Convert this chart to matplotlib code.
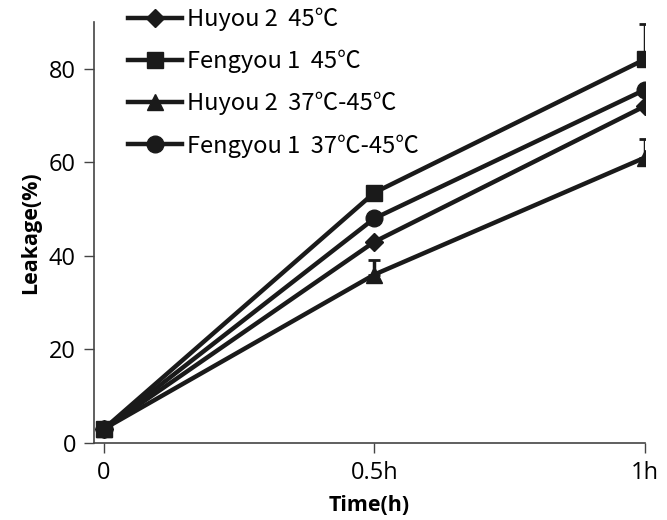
import matplotlib
matplotlib.use("Agg")
import matplotlib.pyplot as plt

plt.rcParams['font.family'] = ['Open Sans', 'Noto Sans CJK SC', 'DejaVu Sans']

# Data
times = [0, 0.5, 1.0]
time_labels = ["0", "0.5h", "1h"]
labels = ["Huyou 2  45\u2103", "Fengyou 1  45\u2103",
          "Huyou 2  37\u2103-45\u2103", "Fengyou 1  37\u2103-45\u2103"]
huyou_45 = [3, 43, 72]
fengyou_45 = [3, 53.5, 82]
huyou_37_45 = [3, 36, 61]
fengyou_37_45 = [3, 48, 75.5]
fengyou_45_err = [0, 1, 7.5]
huyou_37_45_err = [0, 3.2, 4]

series = [huyou_45, fengyou_45, huyou_37_45, fengyou_37_45]
errors = [None, fengyou_45_err, huyou_37_45_err, None]
markers = ["D", "s", "^", "o"]
sizes = [9, 11, 12, 12]

fig = plt.figure(figsize=(6.67, 5.2), dpi=100)
ax = fig.add_axes([0.141, 0.148, 0.826, 0.81])

for vals, err, m, ms, lab in zip(series, errors, markers, sizes, labels):
    ax.plot(times, vals, color="#1a1a1a", lw=3.2, marker=m, markersize=ms, label=lab)
    if err is not None:
        ax.errorbar(times, vals, yerr=[[0] * len(err), err], fmt="none",
                    ecolor="#1a1a1a", elinewidth=2.5, capsize=4, capthick=2)

ax.set_xlim(-0.018, 1.0)
ax.set_ylim(0, 90)
ax.set_xticks(times)
ax.set_xticklabels(time_labels)
ax.set_yticks([0, 20, 40, 60, 80])
ax.tick_params(labelsize=17, direction="out", length=7, width=1, color="#444444", pad=6)
for side in ["top", "right"]:
    ax.spines[side].set_visible(False)
for side in ["left", "bottom"]:
    ax.spines[side].set_color("#444444")
    ax.spines[side].set_linewidth(1.2)
ax.set_xlabel("Time(h)", fontsize=15.5, fontweight="bold", labelpad=7)
ax.set_ylabel("Leakage(%)", fontsize=15.5, fontweight="bold", labelpad=6)

ax.legend(loc="upper left", bbox_to_anchor=(0.178, 1.004), bbox_transform=fig.transFigure,
          frameon=False, prop={'family': ['Noto Sans CJK SC'], 'size': 17},
          handlelength=2.3, handletextpad=0.2, labelspacing=0.8, borderaxespad=0)

fig.savefig("out.png", dpi=100)
